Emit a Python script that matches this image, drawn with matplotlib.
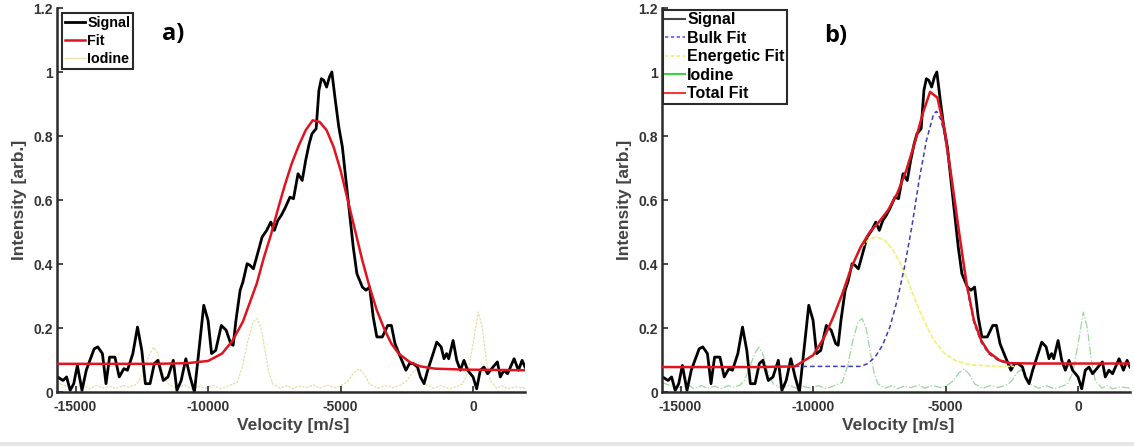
import matplotlib
matplotlib.use("Agg")
import matplotlib.pyplot as plt
from matplotlib.lines import Line2D
from matplotlib.patches import Rectangle

# ---------------- data ----------------
signal_v = [-15700, -15676, -15473, -15338, -15203, -15068, -14932, -14757, -14595, -14459,
            -14297, -14162, -13986, -13851, -13716, -13514, -13351, -13176, -13041, -12838,
            -12662, -12500, -12365, -12189, -12027, -11892, -11689, -11513, -11311, -11176,
            -11014, -10838, -10676, -10514, -10338, -10162, -10000, -9868, -9711, -9500,
            -9316, -9145, -9053, -8947, -8789, -8684, -8526, -8421, -8289, -8132,
            -7961, -7789, -7632, -7500, -7368, -7237, -7105, -6908, -6776, -6605,
            -6447, -6316, -6184, -6079, -5921, -5816, -5724, -5632, -5526, -5421,
            -5329, -5197, -5066, -4932, -4795, -4658, -4521, -4384, -4178, -4041,
            -3904, -3767, -3630, -3425, -3219, -3082, -2945, -2740, -2534, -2397,
            -2260, -2096, -1986, -1849, -1712, -1507, -1370, -1206, -1096, -1000,
            -918, -753, -616, -479, -342, -205, 0, 137, 274, 411,
            548, 754, 918, 1028, 1165, 1302, 1548, 1713, 1850, 1960]
signal_i = [0.045, 0.047, 0.036, 0.047, 0.005, 0.026, 0.083, 0.005, 0.068, 0.099,
            0.135, 0.141, 0.120, 0.026, 0.109, 0.109, 0.047, 0.073, 0.068, 0.120,
            0.203, 0.130, 0.026, 0.026, 0.089, 0.099, 0.036, 0.047, 0.099, 0.005,
            0.036, 0.104, 0.047, 0.000, 0.135, 0.271, 0.224, 0.120, 0.130, 0.208,
            0.193, 0.151, 0.146, 0.224, 0.318, 0.344, 0.401, 0.396, 0.385, 0.432,
            0.484, 0.505, 0.531, 0.505, 0.536, 0.552, 0.573, 0.609, 0.604, 0.682,
            0.661, 0.724, 0.776, 0.807, 0.823, 0.943, 0.979, 0.974, 0.953, 0.984,
            1.000, 0.911, 0.828, 0.766, 0.661, 0.557, 0.453, 0.370, 0.328, 0.318,
            0.328, 0.234, 0.172, 0.172, 0.208, 0.208, 0.151, 0.109, 0.068, 0.089,
            0.089, 0.078, 0.047, 0.026, 0.068, 0.120, 0.156, 0.141, 0.104, 0.120,
            0.104, 0.161, 0.099, 0.068, 0.099, 0.068, 0.047, 0.010, 0.068, 0.078,
            0.057, 0.078, 0.094, 0.047, 0.068, 0.057, 0.104, 0.068, 0.099, 0.078]

iodine_v = [-15700, -15400, -15000, -14700, -14500, -14200, -14000, -13700, -13500, -13200,
            -13000, -12750, -12600, -12400, -12200, -12050, -11900, -11700, -11500, -11200,
            -10900, -10600, -10400, -10100, -9800, -9500, -9200, -8900, -8700, -8500,
            -8300, -8150, -8000, -7850, -7700, -7550, -7300, -7000, -6800, -6600,
            -6300, -6000, -5800, -5500, -5200, -5000, -4700, -4500, -4300, -4100,
            -3900, -3600, -3300, -3000, -2700, -2500, -2300, -2150, -2000, -1800,
            -1500, -1200, -900, -600, -400, -200, 0, 200, 350, 500,
            650, 900, 1100, 1300, 1600, 1960]
iodine_i = [0.030, 0.020, 0.014, 0.022, 0.010, 0.020, 0.012, 0.018, 0.010, 0.020,
            0.015, 0.022, 0.035, 0.075, 0.120, 0.140, 0.120, 0.060, 0.025, 0.012,
            0.022, 0.010, 0.018, 0.012, 0.020, 0.010, 0.020, 0.030, 0.080, 0.160,
            0.220, 0.230, 0.200, 0.130, 0.060, 0.025, 0.012, 0.020, 0.010, 0.018,
            0.014, 0.022, 0.012, 0.020, 0.014, 0.018, 0.035, 0.060, 0.072, 0.055,
            0.025, 0.012, 0.020, 0.014, 0.022, 0.035, 0.060, 0.070, 0.050, 0.025,
            0.012, 0.020, 0.010, 0.018, 0.025, 0.060, 0.150, 0.250, 0.200, 0.100,
            0.035, 0.012, 0.020, 0.010, 0.016, 0.012]

# single-Gaussian fit (panel a)
fit_v = [-15700, -12000, -10800, -10000, -9474, -9079, -8684, -8421, -8158, -7895,
         -7632, -7368, -7105, -6842, -6579, -6316, -6053, -5789, -5526, -5263,
         -5000, -4726, -4452, -4178, -3904, -3630, -3356, -3082, -2808, -2397,
         -1986, -1438, -342, 1960]
fit_i = [0.088, 0.088, 0.090, 0.097, 0.120, 0.160, 0.220, 0.280, 0.340, 0.420,
         0.490, 0.570, 0.646, 0.714, 0.770, 0.818, 0.849, 0.844, 0.818, 0.766,
         0.693, 0.599, 0.505, 0.411, 0.328, 0.255, 0.198, 0.151, 0.120, 0.094,
         0.080, 0.073, 0.070, 0.068]

# two-component fit (panel b)
total_v = [-15700, -12000, -10687, -9998, -9584, -9239, -8895, -8550, -8205, -7860,
           -7516, -7171, -6826, -6481, -6137, -5861, -5585, -5309, -5033, -4758,
           -4482, -4206, -3930, -3654, -3379, -2965, -2551, -1586, 1960]
total_i = [0.078, 0.078, 0.080, 0.115, 0.170, 0.234, 0.307, 0.390, 0.453, 0.500,
           0.531, 0.568, 0.620, 0.693, 0.786, 0.870, 0.938, 0.920, 0.818, 0.660,
           0.495, 0.339, 0.224, 0.161, 0.125, 0.099, 0.090, 0.089, 0.089]

bulk_v = [-10687, -8205, -7929, -7653, -7378, -7102, -6826, -6550, -6274, -5999,
          -5723, -5447, -5337, -5171, -5033, -4758, -4482, -4206, -3930, -3654,
          -3379, -2965, -2551]
bulk_i = [0.080, 0.080, 0.089, 0.110, 0.146, 0.203, 0.286, 0.390, 0.516, 0.661,
          0.786, 0.870, 0.877, 0.850, 0.800, 0.645, 0.485, 0.330, 0.216, 0.155,
          0.120, 0.096, 0.088]

energetic_v = [-10687, -9998, -9584, -9239, -8895, -8550, -8205, -7860, -7583, -7309,
               -7033, -6757, -6481, -6206, -5930, -5654, -5378, -5033, -4620, -4068,
               -3516, -2965, -2413]
energetic_i = [0.080, 0.115, 0.170, 0.234, 0.307, 0.390, 0.450, 0.480, 0.484, 0.475,
               0.450, 0.410, 0.360, 0.300, 0.245, 0.195, 0.155, 0.120, 0.098, 0.085,
               0.082, 0.080, 0.080]

xticks = [-15000, -10000, -5000, 0]
xtick_labels = ["-15000", "-10000", "-5000", "0"]
yticks = [0, 0.2, 0.4, 0.6, 0.8, 1.0, 1.2]
ytick_labels = ["0", "0.2", "0.4", "0.6", "0.8", "1", "1.2"]

# ---------------- figure ----------------
plt.rcParams["font.family"] = ["Liberation Sans", "DejaVu Sans"]
W, H = 1134, 446
fig = plt.figure(figsize=(W / 100, H / 100), dpi=100)

ax_a = fig.add_axes([57 / W, 1 - 392 / H, 468 / W, 384 / H])
ax_b = fig.add_axes([662 / W, 1 - 392 / H, 468 / W, 384 / H])

AXC = "#2b2b2b"
TXT = "#333333"
XLIM = (-15700, 1960)


def style(ax):
    ax.set_xlim(*XLIM)
    ax.set_ylim(0, 1.2)
    for s in ("top", "right"):
        ax.spines[s].set_visible(False)
    for s in ("left", "bottom"):
        ax.spines[s].set_color(AXC)
        ax.spines[s].set_linewidth(1.8)
    ax.set_xticks(xticks)
    ax.set_xticklabels(xtick_labels)
    ax.set_yticks(yticks)
    ax.set_yticklabels(ytick_labels)
    ax.tick_params(direction="in", length=4, width=1.2, color=AXC,
                   labelsize=10, labelcolor=TXT)
    ax.tick_params(axis="y", pad=3)
    ax.tick_params(axis="x", pad=6)
    for lab in ax.get_xticklabels() + ax.get_yticklabels():
        lab.set_fontweight("bold")
    ax.set_xlabel("Velocity [m/s]", fontsize=12.5, fontweight="bold", color="#444444")
    ax.set_ylabel("Intensity [arb.]", fontsize=12.5, fontweight="bold", color="#444444")
    ax.yaxis.set_label_coords(-0.064, 0.5)
    ax.xaxis.set_label_coords(0.505, -0.068)


# panel a
style(ax_a)
ax_a.plot(iodine_v, iodine_i, color="#e6dfa6", lw=0.9, ls=(0, (2, 1)), zorder=1)
ax_a.plot(signal_v, signal_i, color="black", lw=2.0, zorder=2)
ax_a.plot(fit_v, fit_i, color="#e0141e", lw=1.8, zorder=3)
handles_a = [Line2D([], [], color="black", lw=2.0),
             Line2D([], [], color="#e0141e", lw=1.8),
             Line2D([], [], color="#e6dfa6", lw=0.9)]
leg_a = ax_a.legend(handles_a, ["Signal", "Fit", "Iodine"],
                    loc="upper left", bbox_to_anchor=(0.011, 0.987),
                    prop={"weight": "bold", "size": 10.3}, handlelength=1.4,
                    handletextpad=0.15, labelspacing=0.3, borderpad=0.2,
                    borderaxespad=0, fancybox=False, framealpha=1)
leg_a.get_frame().set_edgecolor(AXC)
leg_a.get_frame().set_linewidth(1.5)
ax_a.text(0.224, 0.932, "a)", transform=ax_a.transAxes, fontsize=17,
          fontweight="bold", family=["Open Sans", "DejaVu Sans"], va="center", ha="left")

# panel b
style(ax_b)
ax_b.plot(iodine_v, iodine_i, color="#9fd69f", lw=0.9, ls="-.", zorder=1)
ax_b.plot(signal_v, signal_i, color="black", lw=2.0, zorder=2)
ax_b.plot(energetic_v, energetic_i, color="#f2f078", lw=1.2, ls=(0, (3, 1)), zorder=3)
ax_b.plot(bulk_v, bulk_i, color="#3d3db5", lw=1.1, ls=(0, (3, 2)), zorder=4)
ax_b.plot(total_v, total_i, color="#e0141e", lw=1.8, zorder=5)

handles_b = [Line2D([], [], color="#444444", lw=1.5),
             Line2D([], [], color="#5a5aff", lw=1.2, ls=(0, (2, 1.5))),
             Line2D([], [], color="#f2f060", lw=1.2, ls=(0, (2, 1.5))),
             Line2D([], [], color="#3fd23f", lw=1.5),
             Line2D([], [], color="#f03c3c", lw=1.5)]
labels_b = ["Signal", "Bulk Fit", "Energetic Fit", "Iodine", "Total Fit"]
leg_b = ax_b.legend(handles_b, labels_b, loc="upper left", bbox_to_anchor=(0.002, 0.995),
                    prop={"weight": "bold", "size": 11.5}, handlelength=1.25,
                    handletextpad=0.12, labelspacing=0.22, borderpad=0.15,
                    borderaxespad=0, fancybox=False, framealpha=1)
leg_b.get_frame().set_edgecolor(AXC)
leg_b.get_frame().set_linewidth(1.5)
ax_b.text(0.346, 0.927, "b)", transform=ax_b.transAxes, fontsize=17,
          fontweight="bold", family=["Open Sans", "DejaVu Sans"], va="center", ha="left")

# thin grey band along the bottom edge of the page
fig.patches.append(Rectangle((0, 0), 1, 4 / H, transform=fig.transFigure,
                             facecolor="#e6e6e6", edgecolor="none", zorder=0))

fig.savefig("out.png", dpi=100)
